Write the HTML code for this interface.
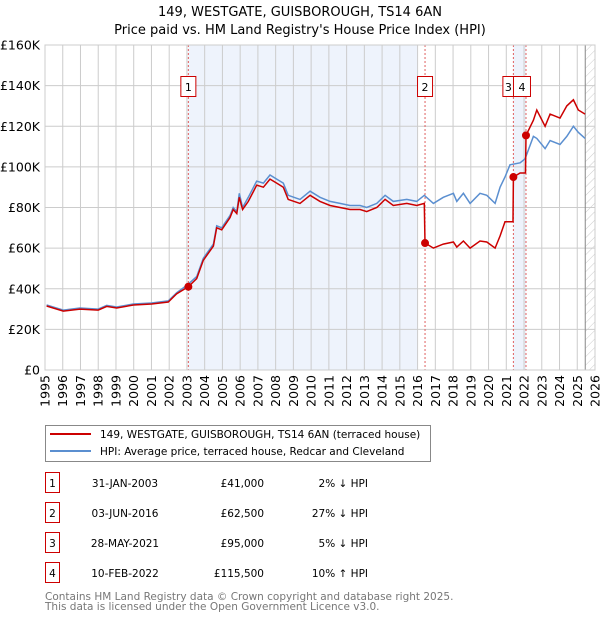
<!DOCTYPE html>
<html><head><meta charset="utf-8"><style>
body{margin:0;background:#fff;font-family:"DejaVu Sans","Liberation Sans",sans-serif;}
svg text{font-family:"DejaVu Sans","Liberation Sans",sans-serif;}
</style></head><body>
<svg id="c" width="600" height="620" viewBox="0 0 600 620" xmlns="http://www.w3.org/2000/svg">
<defs><pattern id="hatch" width="6" height="6" patternUnits="userSpaceOnUse" patternTransform="rotate(45)"><line x1="0" y1="0" x2="0" y2="6" stroke="#ccc" stroke-width="1"/></pattern></defs>
<text x="300" y="16" text-anchor="middle" font-size="13">149, WESTGATE, GUISBOROUGH, TS14 6AN</text>
<text x="300" y="34" text-anchor="middle" font-size="13">Price paid vs. HM Land Registry's House Price Index (HPI)</text>
<g id="plot"></g>
<g>
<rect x="45.5" y="425.5" width="385" height="36" fill="#fff" stroke="#888"/>
<line x1="50" y1="434" x2="91" y2="434" stroke="#cc0000" stroke-width="2"/>
<text x="100" y="438" font-size="10.5">149, WESTGATE, GUISBOROUGH, TS14 6AN (terraced house)</text>
<line x1="50" y1="451" x2="91" y2="451" stroke="#5b8fd0" stroke-width="2"/>
<text x="100" y="455" font-size="10.5">HPI: Average price, terraced house, Redcar and Cleveland</text>
</g>
<g id="table" font-size="10.5"></g>
<text x="45" y="600" font-size="10.5" fill="#777">Contains HM Land Registry data © Crown copyright and database right 2025.</text>
<text x="45" y="610" font-size="10.5" fill="#777">This data is licensed under the Open Government Licence v3.0.</text>
</svg>
<script>
const hpiYears=[1995.09,1996.03,1996.97,1998.0,1998.48,1999.04,1999.98,2001.01,2001.95,2002.42,2003.04,2003.55,2003.92,2004.49,2004.68,2004.96,2005.43,2005.61,2005.81,2005.95,2006.14,2006.46,2006.93,2007.31,2007.68,2008.06,2008.43,2008.71,2009.37,2009.94,2010.50,2011.07,2011.63,2012.19,2012.76,2013.13,2013.70,2014.17,2014.63,2015.39,2015.95,2016.38,2016.89,2017.45,2018.02,2018.21,2018.58,2018.96,2019.52,2019.90,2020.37,2020.65,2020.93,2021.21,2021.78,2022.06,2022.53,2022.72,2023.19,2023.47,2024.03,2024.41,2024.78,2025.06,2025.44];
const hpiValues=[32,29.5,30.5,30,31.8,31,32.5,33,34,38,42,46,55,62,71,70,76,80,78,87,80,85,93,92,96,94,92,86,84,88,85,83,82,81,81,80,82,86,83,84,83,86,82,85,87,83,87,82,87,86,82,90,95,101,102,104,115,114,109,113,111,115,120,117,114];
const priceYears=[1995.09,1996.03,1996.97,1998.0,1998.48,1999.04,1999.98,2001.01,2001.95,2002.42,2003.08,2003.55,2003.92,2004.49,2004.68,2004.96,2005.43,2005.61,2005.81,2005.95,2006.14,2006.46,2006.93,2007.31,2007.68,2008.06,2008.43,2008.71,2009.37,2009.94,2010.50,2011.07,2011.63,2012.19,2012.76,2013.13,2013.70,2014.17,2014.63,2015.39,2015.95,2016.38,2016.42,2016.89,2017.45,2018.02,2018.21,2018.58,2018.96,2019.52,2019.90,2020.37,2020.65,2020.93,2021.38,2021.40,2021.78,2022.08,2022.11,2022.53,2022.72,2023.19,2023.47,2024.03,2024.41,2024.78,2025.06,2025.44];
const priceValues=[31.5,29,30,29.5,31.3,30.5,32,32.5,33.5,37.5,41,45,54,61,70,69,75,79,77,85,79,83,91,90,94,92,90,84,82,86,83,81,80,79,79,78,80,84,81,82,81,82,62.5,60,62,63,60.5,63.5,60,63.5,63,60,66,73,73,95,97,97,115.5,123,128,120,126,124,130,133,128,126];
const saleYears=[2003.08,2016.42,2021.40,2022.11];
const saleValues=[41,62.5,95,115.5];
const saleDates=["31-JAN-2003","03-JUN-2016","28-MAY-2021","10-FEB-2022"];
const salePrices=["£41,000","£62,500","£95,000","£115,500"];
const saleHpi=["2% ↓ HPI","27% ↓ HPI","5% ↓ HPI","10% ↑ HPI"];
const yTicks=[0,20,40,60,80,100,120,140,160];
const xTicks=[1995,1996,1997,1998,1999,2000,2001,2002,2003,2004,2005,2006,2007,2008,2009,2010,2011,2012,2013,2014,2015,2016,2017,2018,2019,2020,2021,2022,2023,2024,2025,2026];

const NS="http://www.w3.org/2000/svg";
const X0=45,X1=595,Y0=370,Y1=45;
const xs=y=>X0+(y-1995)/(2026-1995)*(X1-X0);
const ys=v=>Y0-v/160*(Y0-Y1);
const plot=document.getElementById('plot');
function mk(t,a,p){const e=document.createElementNS(NS,t);for(const k in a)e.setAttribute(k,a[k]);(p||plot).appendChild(e);return e;}
let s=mk('rect',{x:xs(saleYears[0]),y:Y1,width:xs(2016.0)-xs(saleYears[0]),height:Y0-Y1,fill:'#eef3fc'});


s=mk('rect',{x:xs(saleYears[2]),y:Y1,width:xs(saleYears[3])-xs(saleYears[2]),height:Y0-Y1,fill:'#eef3fc'});


s=mk('rect',{x:xs(2025.45),y:Y1,width:X1-xs(2025.45),height:Y0-Y1,fill:'url(#hatch)'});


yTicks.forEach(v=>{
 const l=mk('line',{x1:X0,x2:X1,y1:ys(v),y2:ys(v),stroke:'#ccc'});
 
 
 const t=mk('text',{x:X0-5,y:ys(v)+4.5,'text-anchor':'end','font-size':'12.5'});
 t.textContent=v===0?'£0':'£'+v+'K';
 
 
});
xTicks.forEach(y=>{
 const l=mk('line',{x1:xs(y),x2:xs(y),y1:Y1,y2:Y0,stroke:'#ccc'});
 
 
 const t=mk('text',{x:0,y:0,'text-anchor':'end','font-size':'12.5',transform:`translate(${xs(y)+4.5},${Y0+5}) rotate(-90)`});
 t.textContent=y;
 
 
});
let e=mk('line',{x1:xs(2025.45),x2:xs(2025.45),y1:Y1,y2:Y0,stroke:'#888'});


saleYears.forEach((y,i)=>{
 const l=mk('line',{x1:xs(y),x2:xs(y),y1:Y1,y2:Y0,stroke:'#e06060','stroke-dasharray':'2,2'});
 
 
});
const path=(xa,va)=>xa.map((y,i)=>(i?'L':'M')+xs(y).toFixed(1)+','+ys(va[i]).toFixed(1)).join('');
e=mk('path',{d:path(hpiYears,hpiValues),fill:'none',stroke:'#5b8fd0','stroke-width':1.5});


e=mk('path',{d:path(priceYears,priceValues),fill:'none',stroke:'#cc0000','stroke-width':1.5});


const boxX=[-7.5,-7.5,-10.5,-12.5];
const boxW=[15,15,11,17];
saleYears.forEach((y,i)=>{
 const c=mk('circle',{cx:xs(y),cy:ys(saleValues[i]),r:4,fill:'#cc0000'});
 
 
 const bx=xs(y)+boxX[i];
 const r=mk('rect',{x:bx,y:76.5,width:boxW[i],height:20,fill:'#fff',stroke:'#cc0000'});
 
 
 const t=mk('text',{x:bx+boxW[i]/2,y:91,'text-anchor':'middle','font-size':'11'});
 t.textContent=i+1;
 
 
});
e=mk('rect',{x:X0,y:Y1,width:X1-X0,height:Y0-Y1,fill:'none',stroke:'#ccc'});


const tb=document.getElementById('table');
saleDates.forEach((d,i)=>{
 const yc=483+i*30;
 const r=mk('rect',{x:45.5,y:yc-10.5,width:14,height:20,fill:'#fff',stroke:'#cc0000'},tb);
 
 
 let t=mk('text',{x:52.5,y:yc+4,'text-anchor':'middle'},tb);t.textContent=i+1;
 
 
 t=mk('text',{x:125,y:yc+4,'text-anchor':'middle'},tb);t.textContent=d;
 
 
 t=mk('text',{x:264,y:yc+4,'text-anchor':'end'},tb);t.textContent=salePrices[i];
 
 
 t=mk('text',{x:368,y:yc+4,'text-anchor':'end'},tb);t.textContent=saleHpi[i];
 
 
});
</script>
</body></html>
